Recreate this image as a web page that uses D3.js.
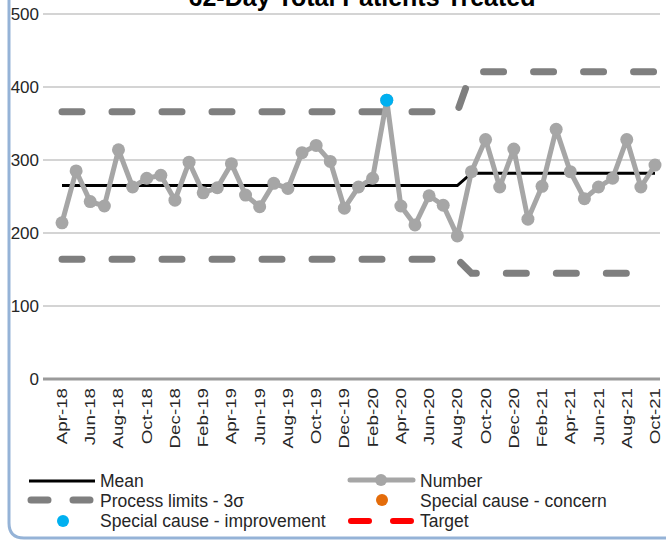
<!DOCTYPE html>
<html><head><meta charset="utf-8">
<script src="https://cdn.jsdelivr.net/npm/d3@7/dist/d3.min.js"></script>
<style>body{margin:0;background:#fff}svg{display:block}text{font-family:"Liberation Sans",Arial,sans-serif;fill:#262626}</style>
</head><body><svg id="c" width="666" height="540"></svg>
<script>
const months = ["Apr-18","May-18","Jun-18","Jul-18","Aug-18","Sep-18","Oct-18","Nov-18","Dec-18","Jan-19","Feb-19","Mar-19","Apr-19","May-19","Jun-19","Jul-19","Aug-19","Sep-19","Oct-19","Nov-19","Dec-19","Jan-20","Feb-20","Mar-20","Apr-20","May-20","Jun-20","Jul-20","Aug-20","Sep-20","Oct-20","Nov-20","Dec-20","Jan-21","Feb-21","Mar-21","Apr-21","May-21","Jun-21","Jul-21","Aug-21","Sep-21","Oct-21"];
const tickLabels = ["Apr-18","Jun-18","Aug-18","Oct-18","Dec-18","Feb-19","Apr-19","Jun-19","Aug-19","Oct-19","Dec-19","Feb-20","Apr-20","Jun-20","Aug-20","Oct-20","Dec-20","Feb-21","Apr-21","Jun-21","Aug-21","Oct-21"];
const number = [214,285,243,237,314,263,275,279,245,297,255,262,295,252,236,268,261,310,320,298,234,263,275,382,237,211,251,238,196,284,328,263,315,219,264,342,284,247,263,275,328,263,293];
const mean = [265,265,265,265,265,265,265,265,265,265,265,265,265,265,265,265,265,265,265,265,265,265,265,265,265,265,265,265,265,282,282,282,282,282,282,282,282,282,282,282,282,282,282];
const ucl = [366,366,366,366,366,366,366,366,366,366,366,366,366,366,366,366,366,366,366,366,366,366,366,366,366,366,366,366,366,421,421,421,421,421,421,421,421,421,421,421,421,421,421];
const lcl = [164,164,164,164,164,164,164,164,164,164,164,164,164,164,164,164,164,164,164,164,164,164,164,164,164,164,164,164,164,145,145,145,145,145,145,145,145,145,145,145,145,145,145];
const improvement = [{month:"Mar-20", value:382}];
const yTicks = [0,100,200,300,400,500];
const title = "62-Day Total Patients Treated";

const svg = d3.select("#c");
const x = d3.scalePoint().domain(months).range([62,655]);
const y = d3.scaleLinear().domain([0,500]).range([379,14]);
const plotL = 43, plotR = 660;

// frame
svg.append("path").attr("d","M9,-5 L9,523 Q9,538 24,538 L670,538")
  .attr("fill","none").attr("stroke","#95b3d7").attr("stroke-width",3);

// title
svg.append("text").attr("x",362).attr("y",6).attr("text-anchor","middle")
  .style("font-size","25px").style("font-weight","bold").style("fill","#000").text(title);

// gridlines
svg.append("g").selectAll("line").data(yTicks.filter(d=>d>0)).join("line")
  .attr("x1",plotL).attr("x2",plotR).attr("y1",d=>y(d)).attr("y2",d=>y(d))
  .attr("stroke","#d4d4d4").attr("stroke-width",2);

// y axis labels via axis
const yAxis = svg.append("g").attr("transform",`translate(${plotL},0)`)
  .call(d3.axisLeft(y).tickValues(yTicks).tickSize(0).tickPadding(4));
yAxis.select(".domain").remove();
yAxis.selectAll("text").style("font-size","17px").style("font-family","Liberation Sans, Arial, sans-serif").attr("fill","#262626");

// baseline
svg.append("line").attr("x1",plotL).attr("x2",plotR).attr("y1",y(0)).attr("y2",y(0))
  .attr("stroke","#9a9a9a").attr("stroke-width",3);

// x labels
const xl = svg.append("g").selectAll("text").data(tickLabels).join("text")
  .attr("transform",d=>`translate(${x(d)+5},388) rotate(-90) scale(1.25,1)`)
  .attr("text-anchor","end").style("font-size","15px").text(d=>d);

const line = d3.line().x((d,i)=>x(months[i])).y(d=>y(d));

// limits
[ucl,lcl].forEach(arr=>{
  svg.append("path").attr("d",line(arr)).attr("fill","none")
    .attr("stroke","#7f7f7f").attr("stroke-width",7).attr("stroke-linecap","round")
    .attr("stroke-dasharray","20 30");
});

// mean
svg.append("path").attr("d",line(mean)).attr("fill","none")
  .attr("stroke","#000").attr("stroke-width",3);

// number
svg.append("path").attr("d",line(number)).attr("fill","none")
  .attr("stroke","#a6a6a6").attr("stroke-width",5).attr("stroke-linejoin","round");
svg.append("g").selectAll("circle").data(number).join("circle")
  .attr("cx",(d,i)=>x(months[i])).attr("cy",d=>y(d)).attr("r",6.5).attr("fill","#a6a6a6");

// special cause improvement
svg.append("g").selectAll("circle").data(improvement).join("circle")
  .attr("cx",d=>x(d.month)).attr("cy",d=>y(d.value)).attr("r",6.5).attr("fill","#00b0f0");

// legend
const lg = svg.append("g");
const fs = "17.5px";
lg.append("line").attr("x1",29).attr("x2",95).attr("y1",481).attr("y2",481).attr("stroke","#000").attr("stroke-width",3);
lg.append("text").attr("x",100).attr("y",487).style("font-size",fs).text("Mean");
lg.append("line").attr("x1",31).attr("x2",93).attr("y1",500).attr("y2",500).attr("stroke","#7f7f7f").attr("stroke-width",7).attr("stroke-linecap","round").attr("stroke-dasharray","17 25");
lg.append("text").attr("x",100).attr("y",507).style("font-size",fs).text("Process limits - 3σ");
lg.append("circle").attr("cx",63).attr("cy",521).attr("r",6).attr("fill","#00b0f0");
lg.append("text").attr("x",100).attr("y",527).style("font-size",fs).text("Special cause  - improvement");

lg.append("line").attr("x1",350).attr("x2",413).attr("y1",480).attr("y2",480).attr("stroke","#a6a6a6").attr("stroke-width",5).attr("stroke-linecap","round");
lg.append("circle").attr("cx",381).attr("cy",480).attr("r",6).attr("fill","#a6a6a6");
lg.append("text").attr("x",420).attr("y",487).style("font-size",fs).text("Number");
lg.append("circle").attr("cx",382).attr("cy",500).attr("r",6).attr("fill","#e46c0a");
lg.append("text").attr("x",420).attr("y",507).style("font-size",fs).text("Special cause - concern");
lg.append("line").attr("x1",351).attr("x2",411).attr("y1",521).attr("y2",521).attr("stroke","#ff0000").attr("stroke-width",6).attr("stroke-linecap","round").attr("stroke-dasharray","18 24");
lg.append("text").attr("x",420).attr("y",527).style("font-size",fs).text("Target");
</script></body></html>
